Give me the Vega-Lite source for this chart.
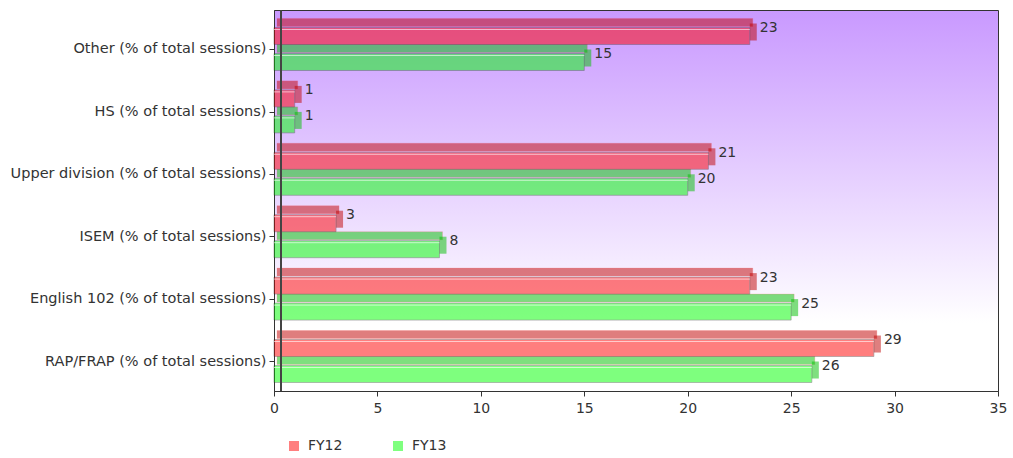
{
  "$schema": "https://vega.github.io/schema/vega-lite/v6.json",
  "autosize": {"type": "none"},
  "padding": {"left": 274, "top": 10, "right": 15, "bottom": 67},
  "width": 724,
  "height": 381,
  "background": "#ffffff",
  "config": {
    "font": "DejaVu Sans",
    "view": {
      "stroke": "#333333",
      "strokeWidth": 1,
      "fill": {
        "gradient": "linear",
        "x1": 0, "y1": 1, "x2": 0, "y2": 0,
        "stops": [
          {"offset": 0, "color": "#ffffff"},
          {"offset": 0.18, "color": "#ffffff"},
          {"offset": 1, "color": "#c999ff"}
        ]
      }
    }
  },
  "data": {
    "values": [
      {"cat": "Other (% of total sessions)", "series": "FY12", "value": 23},
      {"cat": "Other (% of total sessions)", "series": "FY13", "value": 15},
      {"cat": "HS (% of total sessions)", "series": "FY12", "value": 1},
      {"cat": "HS (% of total sessions)", "series": "FY13", "value": 1},
      {"cat": "Upper division (% of total sessions)", "series": "FY12", "value": 21},
      {"cat": "Upper division (% of total sessions)", "series": "FY13", "value": 20},
      {"cat": "ISEM (% of total sessions)", "series": "FY12", "value": 3},
      {"cat": "ISEM (% of total sessions)", "series": "FY13", "value": 8},
      {"cat": "English 102 (% of total sessions)", "series": "FY12", "value": 23},
      {"cat": "English 102 (% of total sessions)", "series": "FY13", "value": 25},
      {"cat": "RAP/FRAP (% of total sessions)", "series": "FY12", "value": 29},
      {"cat": "RAP/FRAP (% of total sessions)", "series": "FY13", "value": 26}
    ]
  },
  "encoding": {
    "y": {
      "field": "cat",
      "type": "nominal",
      "sort": null,
      "scale": {"paddingInner": 0.1667, "paddingOuter": 0.136},
      "axis": {
        "title": null,
        "bandPosition": 0.6,
        "labelOffset": 5,
        "domainColor": "#333333",
        "tickColor": "#333333",
        "tickSize": 5,
        "labelPadding": 3,
        "labelFontSize": 14.5,
        "labelColor": "#333333",
        "labelLimit": 0
      }
    }
  },
  "resolve": {"scale": {"yOffset": "independent"}},
  "layer": [
    {
      "mark": {"type": "bar", "xOffset": 3, "x2Offset": 5, "opacity": 0.5, "stroke": "#ff0000", "strokeOpacity": 0.25, "strokeWidth": 1},
      "encoding": {
        "x": {"field": "value", "type": "quantitative"},
        "yOffset": {"field": "series", "type": "nominal", "scale": {"type": "band", "paddingInner": 0.692, "paddingOuter": 0.346, "align": 0}},
        "fill": {"field": "series", "type": "nominal", "scale": {"range": ["#c00000", "#00c000"]}, "legend": null}
      }
    },
    {
      "mark": {"type": "bar", "x2Offset": 7, "opacity": 0.5},
      "encoding": {
        "x": {"field": "value", "type": "quantitative"},
        "x2": {"field": "value"},
        "yOffset": {"field": "series", "type": "nominal", "scale": {"type": "band", "paddingInner": 0.346, "paddingOuter": 0.173, "align": 0.556}},
        "fill": {"field": "series", "type": "nominal", "scale": {"range": ["#c00000", "#00c000"]}, "legend": null}
      }
    },
    {
      "mark": {"type": "bar", "opacity": 0.5, "stroke": "#2a2a2a", "strokeWidth": 1, "strokeOpacity": 0.6},
      "encoding": {
        "x": {
          "field": "value",
          "type": "quantitative",
          "scale": {"domain": [0, 35], "nice": false},
          "axis": {
            "title": null,
            "values": [0, 5, 10, 15, 20, 25, 30, 35],
            "grid": false,
            "domainColor": "#333333",
            "tickColor": "#333333",
            "tickSize": 5,
            "labelPadding": 5,
            "labelFontSize": 14,
            "labelColor": "#333333",
            "labelFlush": false
          }
        },
        "yOffset": {"field": "series", "type": "nominal", "scale": {"type": "band", "paddingInner": 0.346, "paddingOuter": 0.173, "align": 1}},
        "color": {
          "field": "series",
          "type": "nominal",
          "scale": {"range": ["#ff0000", "#00ff00"]},
          "legend": {
            "title": null,
            "orient": "none",
            "direction": "horizontal",
            "legendX": 13,
            "legendY": 429,
            "symbolType": "square",
            "symbolSize": 100,
            "symbolOpacity": 0.5,
            "symbolStrokeWidth": 0,
            "labelFontSize": 14,
            "labelColor": "#333333",
            "labelOffset": 7,
            "columnPadding": 48
          }
        }
      }
    },
    {
      "mark": {"type": "rule", "color": "#ffffff", "strokeWidth": 1, "opacity": 0.6},
      "encoding": {
        "x": {"field": "value", "type": "quantitative"},
        "x2": {"datum": 0},
        "yOffset": {"field": "series", "type": "nominal", "scale": {"type": "band", "paddingInner": 0.923, "paddingOuter": 0.4615, "align": 0.4167}}
      }
    },
    {
      "mark": {"type": "text", "align": "left", "baseline": "middle", "dx": 10, "dy": -8, "fontSize": 14, "color": "#333333"},
      "encoding": {
        "x": {"field": "value", "type": "quantitative"},
        "yOffset": {"field": "series", "type": "nominal", "scale": {"type": "band", "paddingInner": 0.346, "paddingOuter": 0.173, "align": 1}},
        "text": {"field": "value", "type": "quantitative"}
      }
    },
    {
      "mark": {"type": "rule", "xOffset": 7, "color": "#444444", "strokeWidth": 1},
      "encoding": {
        "x": {"datum": 0},
        "y": null
      }
    }
  ]
}
